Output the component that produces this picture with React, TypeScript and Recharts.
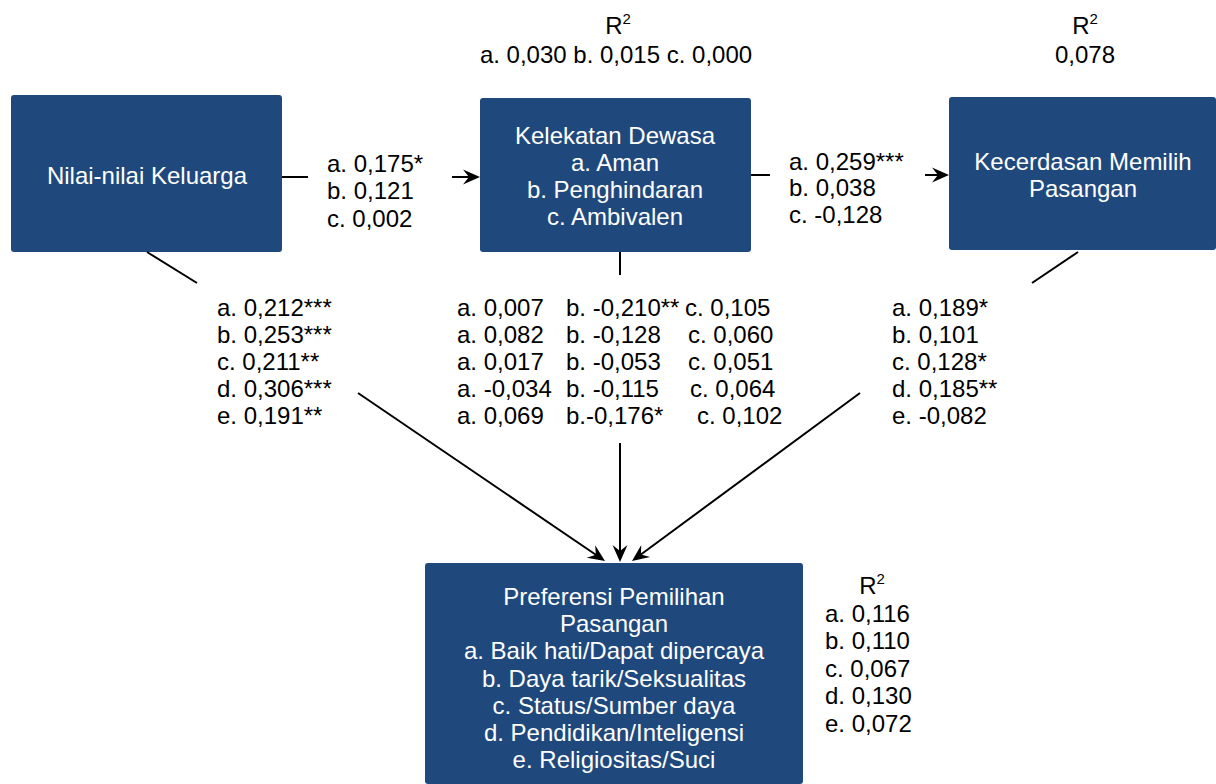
import React from "react";
import { ScatterChart, Scatter, XAxis, YAxis, ReferenceArea, ReferenceLine } from "recharts";

// Canvas
const W = 1216;
const H = 784;
const BOX = "#1F497D";
const FONT = "'Liberation Sans', Arial, Helvetica, sans-serif";
const FS = 24;

// Node labels
const familyLabel = ["Nilai-nilai Keluarga"];
const attachmentLabel = ["Kelekatan Dewasa", "a. Aman", "b. Penghindaran", "c. Ambivalen"];
const intelligenceLabel = ["Kecerdasan Memilih", "Pasangan"];
const preferenceLabel = [
  "Preferensi Pemilihan",
  "Pasangan",
  "a. Baik hati/Dapat dipercaya",
  "b. Daya tarik/Seksualitas",
  "c. Status/Sumber daya",
  "d. Pendidikan/Inteligensi",
  "e. Religiositas/Suci",
];

// Path coefficients
const familyToAttachment = ["a. 0,175*", "b. 0,121", "c. 0,002"];
const attachmentToIntelligence = ["a. 0,259***", "b. 0,038", "c. -0,128"];
const familyToPreference = ["a. 0,212***", "b. 0,253***", "c. 0,211**", "d. 0,306***", "e. 0,191**"];
const aman = ["a. 0,007", "a. 0,082", "a. 0,017", "a. -0,034", "a. 0,069"];
const penghindaran = ["b. -0,210**", "b. -0,128", "b. -0,053", "b. -0,115", "b.-0,176*"];
const ambivalen = ["c. 0,105", "c. 0,060", "c. 0,051", "c. 0,064", "c. 0,102"];
const intelligenceToPreference = ["a. 0,189*", "b. 0,101", "c. 0,128*", "d. 0,185**", "e. -0,082"];

// R squared
const r2Attachment = ["a. 0,030 b. 0,015 c. 0,000"];
const r2Intelligence = ["0,078"];
const r2Preference = ["a. 0,116", "b. 0,110", "c. 0,067", "d. 0,130", "e. 0,072"];

// Layout (positions in pixel space of the chart)
const boxes = [
  { x1: 11, x2: 282, y1: 95, y2: 252 },
  { x1: 480, x2: 751, y1: 98, y2: 252 },
  { x1: 949, x2: 1216, y1: 97, y2: 250 },
  { x1: 425, x2: 803, y1: 563, y2: 784 },
];
const plainSegments = [
  [[282, 177], [308, 177]],
  [[751, 175], [770, 175]],
  [[147, 252], [197, 283]],
  [[620, 252], [620, 275]],
  [[1078, 252], [1032, 283]],
];
const arrowSegments = [
  [[452, 177], [480, 177]],
  [[925, 175], [949, 175]],
  [[358, 393], [605, 561]],
  [[620, 443], [620, 562]],
  [[860, 393], [632, 561]],
];
const cColumnX = [685, 688, 688, 690, 697];

type Item = { x: number; y: number; text: string; anchor: string; color: string; sup?: string };

const list = (lines: string[], x: number, y0: number, step: number, anchor: string, color: string): Item[] =>
  lines.map((text, i) => ({ x, y: y0 + i * step, text, anchor, color }));

const r2Head = (x: number, y: number): Item => ({ x, y, text: "R", sup: "2", anchor: "middle", color: "#000" });

const items: Item[] = [
  ...list(familyLabel, 147, 175, 27, "middle", "#fff"),
  ...list(attachmentLabel, 615, 135, 27, "middle", "#fff"),
  ...list(intelligenceLabel, 1083, 161, 27, "middle", "#fff"),
  ...list(preferenceLabel, 614, 596, 27.3, "middle", "#fff"),
  ...list(familyToAttachment, 327, 163, 27.5, "start", "#000"),
  ...list(attachmentToIntelligence, 789, 161, 26.5, "start", "#000"),
  ...list(familyToPreference, 217, 307, 27, "start", "#000"),
  ...list(aman, 457, 307, 27, "start", "#000"),
  ...list(penghindaran, 566, 307, 27, "start", "#000"),
  ...ambivalen.map((text, i) => ({ x: cColumnX[i], y: 307 + i * 27, text, anchor: "start", color: "#000" })),
  ...list(intelligenceToPreference, 892, 307, 27, "start", "#000"),
  r2Head(618, 25),
  ...list(r2Attachment, 616, 54, 27, "middle", "#000"),
  r2Head(1085, 25),
  ...list(r2Intelligence, 1085, 54, 27, "middle", "#000"),
  r2Head(872, 585),
  ...list(r2Preference, 825, 613, 27.6, "start", "#000"),
];

const TextMark = (props: any) => {
  const d: Item = props.payload;
  return (
    <text
      x={props.cx}
      y={props.cy}
      dy="0.36em"
      textAnchor={d.anchor as any}
      fill={d.color}
      fontSize={FS}
      fontFamily={FONT}
    >
      {d.text}
      {d.sup && (
        <tspan dy={-10} fontSize={15}>
          {d.sup}
        </tspan>
      )}
    </text>
  );
};

const PlainLine = (props: any) => (
  <line x1={props.x1} y1={props.y1} x2={props.x2} y2={props.y2} stroke="#000" strokeWidth={2} />
);

const ArrowLine = (props: any) => {
  const { x1, y1, x2, y2 } = props;
  const len = Math.hypot(x2 - x1, y2 - y1) || 1;
  const ux = (x2 - x1) / len;
  const uy = (y2 - y1) / len;
  const px = -uy;
  const py = ux;
  const L = 17;
  const w = 7.5;
  const pts = [
    [x2, y2],
    [x2 - L * ux + w * px, y2 - L * uy + w * py],
    [x2 - 0.65 * L * ux, y2 - 0.65 * L * uy],
    [x2 - L * ux - w * px, y2 - L * uy - w * py],
  ]
    .map((p) => p.join(","))
    .join(" ");
  return (
    <g>
      <line x1={x1} y1={y1} x2={x2 - 0.6 * L * ux} y2={y2 - 0.6 * L * uy} stroke="#000" strokeWidth={2} />
      <polygon points={pts} fill="#000" />
    </g>
  );
};

export default function App() {
  return (
    <div style={{ width: W, height: H, background: "#fff" }}>
      <style>{"body{margin:0}"}</style>
      <ScatterChart width={W} height={H} margin={{ top: 0, right: 0, bottom: 0, left: 0 }}>
        <XAxis type="number" dataKey="x" domain={[0, W]} hide allowDataOverflow />
        <YAxis type="number" dataKey="y" domain={[0, H]} reversed hide allowDataOverflow />
        {boxes.map((b, i) => (
          <ReferenceArea
            key={`box-${i}`}
            x1={b.x1}
            x2={b.x2}
            y1={b.y1}
            y2={b.y2}
            fill={BOX}
            fillOpacity={1}
            stroke="none"
            ifOverflow="extendDomain"
            radius={3}
          />
        ))}
        {plainSegments.map((s, i) => (
          <ReferenceLine
            key={`seg-${i}`}
            segment={[{ x: s[0][0], y: s[0][1] }, { x: s[1][0], y: s[1][1] }]}
            shape={PlainLine}
            ifOverflow="visible"
          />
        ))}
        {arrowSegments.map((s, i) => (
          <ReferenceLine
            key={`arrow-${i}`}
            segment={[{ x: s[0][0], y: s[0][1] }, { x: s[1][0], y: s[1][1] }]}
            shape={ArrowLine}
            ifOverflow="visible"
          />
        ))}
        <Scatter data={items} shape={TextMark} isAnimationActive={false} />
      </ScatterChart>
    </div>
  );
}
